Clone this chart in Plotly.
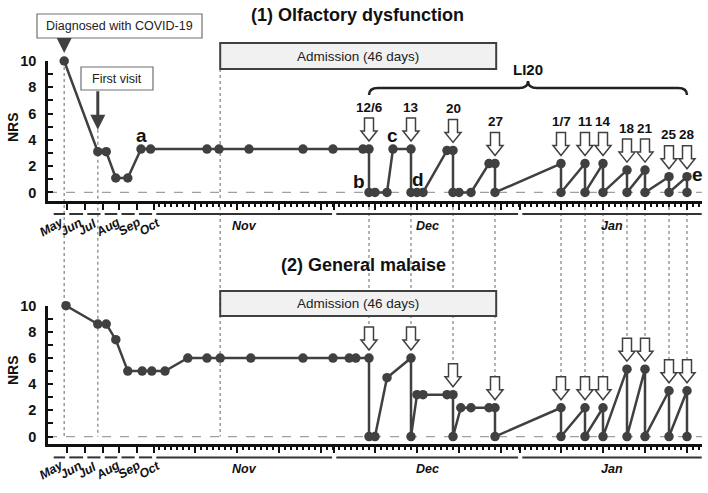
import plotly.graph_objects as go

# ---------------- data ----------------
# x = day index (Nov 1 = 0, one unit per day for Nov-Jan); May-Oct drawn on a compressed scale
olf_x = [-15.8, -10.2, -8.8, -7.2, -5.2, -3.0, -1.4, 8, 10, 15, 24, 29, 34, 35, 35, 36, 38, 39, 42, 42,
         43, 44, 48, 49, 49, 50, 52, 55, 56, 56, 67, 67, 71, 71, 74, 74, 78, 78, 81, 81, 85, 85, 88, 88]
olf_y = [10, 3.1, 3.1, 1.1, 1.1, 3.3, 3.3, 3.3, 3.3, 3.3, 3.3, 3.3, 3.3, 3.3, 0, 0, 0, 3.3, 3.3, 0,
         0, 0, 3.2, 3.2, 0, 0, 0, 2.2, 2.2, 0, 2.2, 0, 2.2, 0, 2.2, 0, 1.7, 0, 1.7, 0, 1.2, 0, 1.2, 0]

mal_x = [-15.5, -10.2, -8.8, -7.2, -5.2, -2.8, -1.2, 1, 4.8, 8, 10.2, 15.3, 24, 29, 31.7, 32.8, 35, 35,
         36, 38, 42, 42, 43, 44, 48, 49, 49, 50.3, 52, 55, 56, 56, 67, 67, 71, 71, 74, 74, 78, 78,
         81, 81, 85, 85, 88, 88]
mal_y = [10, 8.6, 8.6, 7.4, 5, 5, 5, 5, 6, 6, 6, 6, 6, 6, 6, 6, 6, 0,
         0, 4.5, 6, 0, 3.2, 3.2, 3.2, 3.2, 0, 2.2, 2.2, 2.2, 2.2, 0, 2.2, 0, 2.2, 0, 2.2, 0, 5.15, 0,
         5.15, 0, 3.5, 0, 3.5, 0]

li20_x = [35, 42, 49, 56, 67, 71, 74, 78, 81, 85, 88]
li20_labels = ["12/6", "13", "20", "27", "1/7", "11", "14", "18", "21", "25", "28"]
olf_li20_y = [3.3, 3.3, 3.2, 2.2, 2.2, 2.2, 2.2, 1.7, 1.7, 1.2, 1.2]
mal_li20_y = [6, 6, 3.2, 2.2, 2.2, 2.2, 2.2, 5.15, 5.15, 3.5, 3.5]

month_names = ["May", "Jun", "Jul", "Aug", "Sep", "Oct", "Nov", "Dec", "Jan"]
month_bounds = [-17.9, -15.3, -12.3, -9.4, -6.6, -3.7, -0.8, 29.2, 60.2, 90.8]
weekly_ticks = [6, 13, 20, 27, 36, 43, 50, 57, 67, 74, 81, 88]
daily_ticks = list(range(0, 91))

diag_x, diag_y = -15.8, 10
first_x, first_y = -10.2, 3.1
admission_start, admission_days = 10.2, 46

letters = ["a", "b", "c", "d", "e"]
letter_x = [-3.0, 33.3, 38.9, 43.2, 89.8]
letter_y = [4.37, 0.8, 4.37, 0.95, 1.33]

# ---------------- layout helpers ----------------
W, H = 708, 493
X_L, X_R = 48, 702
XR = [-18.5, 90.5]
TOP = dict(top=61, bot=201, rng=[-0.65, 10.0])
BOT = dict(top=305.7, bot=444.4, rng=[-0.6, 10.0])
FONT = "Liberation Sans, Arial, sans-serif"
DARK = "#404040"


def py(p):
    return 1 - p / H


def pxx(p):
    return p / W


def v2px(v, ax):
    r0, r1 = ax["rng"]
    return ax["bot"] - (v - r0) / (r1 - r0) * (ax["bot"] - ax["top"])


def xaxis_cfg():
    major = month_bounds[1:-1] + weekly_ticks
    return dict(domain=[pxx(X_L), pxx(X_R)], range=XR, showline=True, linewidth=2.5, linecolor="#111",
                ticks="outside", tickmode="array", tickvals=major, ticklen=6, tickwidth=2,
                tickcolor="#111", showticklabels=False, showgrid=False, zeroline=False, automargin=False,
                minor=dict(tickmode="array", tickvals=daily_ticks, ticks="outside", ticklen=3,
                           tickwidth=1.5, tickcolor="#111", showgrid=False))


def yaxis_cfg(ax):
    return dict(domain=[py(ax["bot"]), py(ax["top"])], range=ax["rng"], showline=True, linewidth=2.5,
                linecolor="#111", ticks="inside", tickmode="array", tickvals=[0, 2, 4, 6, 8, 10],
                ticklen=5, tickwidth=2, tickcolor="#111", showgrid=False, zeroline=False, automargin=False,
                tickfont=dict(family=FONT, size=14.5, color="#111", weight="bold"),
                ticklabelstandoff=6,
                minor=dict(tickmode="array", tickvals=[1, 3, 5, 7, 9], ticks="inside", ticklen=5,
                           tickwidth=2, tickcolor="#111", showgrid=False))


fig = go.Figure()
line_style = dict(color=DARK, width=2.5)
marker_style = dict(color=DARK, size=9.5)
fig.add_trace(go.Scatter(x=olf_x, y=olf_y, mode="lines+markers", line=line_style, marker=marker_style,
                         cliponaxis=False, xaxis="x", yaxis="y", showlegend=False, hoverinfo="skip"))
fig.add_trace(go.Scatter(x=mal_x, y=mal_y, mode="lines+markers", line=line_style, marker=marker_style,
                         cliponaxis=False, xaxis="x2", yaxis="y2", showlegend=False, hoverinfo="skip"))

shapes = []
annotations = []
dotted = dict(color="#9a9a9a", width=1.5, dash="dot")


def ann(**kw):
    base = dict(showarrow=False, xanchor="center", yanchor="middle")
    base.update(kw)
    annotations.append(base)


# zero dashed lines
for yref in ["y", "y2"]:
    xref = "x" if yref == "y" else "x2"
    shapes.append(dict(type="line", xref=xref, yref=yref, x0=XR[0], x1=XR[1], y0=0, y1=0,
                       line=dict(color="#a0a0a0", width=1.3, dash="dash"), layer="below"))

# vertical guide lines
bot_zero = py(v2px(0, BOT))
shapes.append(dict(type="line", xref="x", yref="paper", x0=diag_x, x1=diag_x,
                   y0=py(v2px(diag_y, TOP)), y1=bot_zero, line=dotted, layer="below"))
shapes.append(dict(type="line", xref="x", yref="paper", x0=first_x, x1=first_x,
                   y0=py(v2px(first_y, TOP) - 22), y1=bot_zero, line=dotted, layer="below"))
shapes.append(dict(type="line", xref="x", yref="paper", x0=admission_start, x1=admission_start,
                   y0=py(69), y1=bot_zero, line=dotted, layer="below"))
for xv, yv in zip(li20_x, mal_li20_y):
    shapes.append(dict(type="line", xref="x", yref="paper", x0=xv, x1=xv,
                       y0=py(TOP["bot"]), y1=py(v2px(yv, BOT) - 31), line=dotted, layer="below"))

# hollow LI20 arrows
ARROW = "M 0,8 L -8,18 L -4.5,18 L -4.5,31 L 4.5,31 L 4.5,18 L 8,18 Z"
for xv, yv in zip(li20_x, olf_li20_y):
    shapes.append(dict(type="path", xref="x", yref="y", xsizemode="pixel", ysizemode="pixel",
                       xanchor=xv, yanchor=yv, path=ARROW, fillcolor="white",
                       line=dict(color=DARK, width=1.5)))
for xv, yv in zip(li20_x, mal_li20_y):
    shapes.append(dict(type="path", xref="x2", yref="y2", xsizemode="pixel", ysizemode="pixel",
                       xanchor=xv, yanchor=yv, path=ARROW, fillcolor="white",
                       line=dict(color=DARK, width=1.5)))

# date labels above top arrows
for xv, yv, lab in zip(li20_x, olf_li20_y, li20_labels):
    ann(x=xv, y=yv, xref="x", yref="y", text=lab, yshift=42,
        font=dict(family=FONT, size=13.5, color="#111", weight="bold"))

# brace + LI20
x0b, x1b = li20_x[0], li20_x[-1]
xm = (x0b + x1b) / 2
k = 1.5
ye, yh, yp = py(95), py(88), py(81)
brace = (f"M {x0b},{ye} Q {x0b},{yh} {x0b + k},{yh} L {xm - k},{yh} Q {xm},{yh} {xm},{yp} "
         f"Q {xm},{yh} {xm + k},{yh} L {x1b - k},{yh} Q {x1b},{yh} {x1b},{ye}")
shapes.append(dict(type="path", xref="x", yref="paper", path=brace, line=dict(color="#222", width=2.5)))
ann(x=xm, y=py(70), xref="x", yref="paper", text="LI20",
    font=dict(family=FONT, size=15, color="#111", weight="bold"))

# letters
for t, xv, yv in zip(letters, letter_x, letter_y):
    ann(x=xv, y=yv, xref="x", yref="y", text=t,
        font=dict(family=FONT, size=19, color="#111", weight="bold"))

# admission boxes
for (btop, bbot, xref) in [(43, 69, "x"), (291, 316, "x2")]:
    shapes.append(dict(type="rect", xref=xref, yref="paper", x0=admission_start,
                       x1=admission_start + admission_days, y0=py(bbot), y1=py(btop),
                       fillcolor="#f1f1f1", line=dict(color=DARK, width=2)))
    ann(x=admission_start + admission_days / 2, y=py((btop + bbot) / 2), xref=xref,
        yref="paper", text=f"Admission ({admission_days} days)",
        font=dict(family=FONT, size=13.5, color="#222"))

# Diagnosed / First visit boxes
for (l, t, r, b, txt) in [(37, 14, 202, 38, "Diagnosed with COVID-19"), (81, 67, 153, 90, "First visit")]:
    shapes.append(dict(type="rect", xref="paper", yref="paper", x0=pxx(l), x1=pxx(r), y0=py(b), y1=py(t),
                       fillcolor="white", line=dict(color="#707070", width=1.2)))
    ann(x=pxx((l + r) / 2), y=py((t + b) / 2), xref="paper", yref="paper", text=txt,
        font=dict(family=FONT, size=12.5, color="#222"))
annotations.append(dict(x=diag_x, y=diag_y, xref="x", yref="y", text="", showarrow=True, ax=0, ay=-23,
                        arrowhead=2, arrowsize=1, arrowwidth=3, arrowcolor=DARK, standoff=8))
annotations.append(dict(x=first_x, y=first_y, xref="x", yref="y", text="", showarrow=True, ax=0, ay=-62,
                        arrowhead=2, arrowsize=1, arrowwidth=3, arrowcolor=DARK, standoff=22))

# month segments and labels
label_dx = [-8, -5, -6, -3, 1, 4, 0, 0, 0]
for ax, xref in [(TOP, "x"), (BOT, "x2")]:
    seg_y = py(ax["bot"] + 13)
    for i, name in enumerate(month_names):
        a, b = month_bounds[i] + 0.35, month_bounds[i + 1] - 0.35
        shapes.append(dict(type="line", xref=xref, yref="paper", x0=a, x1=b, y0=seg_y, y1=seg_y,
                           line=dict(color="#333", width=2)))
        rotated = i < 6
        ann(x=(a + b) / 2, y=py(ax["bot"] + (26 if rotated else 25)), xref=xref,
            yref="paper", text=name, xshift=label_dx[i],
            textangle=-30 if rotated else 0,
            font=dict(family=FONT, size=12.5, color="#111", weight="bold", style="italic"))

# titles and axis titles
ann(x=pxx(358), y=py(15), xref="paper", yref="paper", text="(1) Olfactory dysfunction",
    font=dict(family=FONT, size=18, color="#111", weight="bold"))
ann(x=pxx(363), y=py(265), xref="paper", yref="paper", text="(2) General malaise",
    font=dict(family=FONT, size=18, color="#111", weight="bold"))
for yc in [127, 370]:
    ann(x=pxx(13), y=py(yc), xref="paper", yref="paper", text="NRS", textangle=-90,
        font=dict(family=FONT, size=14, color="#111", weight="bold"))

fig.update_layout(
    width=W, height=H, margin=dict(l=0, r=0, t=0, b=0, autoexpand=False),
    paper_bgcolor="white", plot_bgcolor="white", showlegend=False,
    xaxis=dict(anchor="y", **xaxis_cfg()),
    yaxis=dict(anchor="x", **yaxis_cfg(TOP)),
    xaxis2=dict(anchor="y2", **xaxis_cfg()),
    yaxis2=dict(anchor="x2", **yaxis_cfg(BOT)),
    shapes=shapes, annotations=annotations,
    font=dict(family=FONT),
)

fig.write_html("out.html", post_script="document.body.style.margin='0';",
               config={"displayModeBar": False})
